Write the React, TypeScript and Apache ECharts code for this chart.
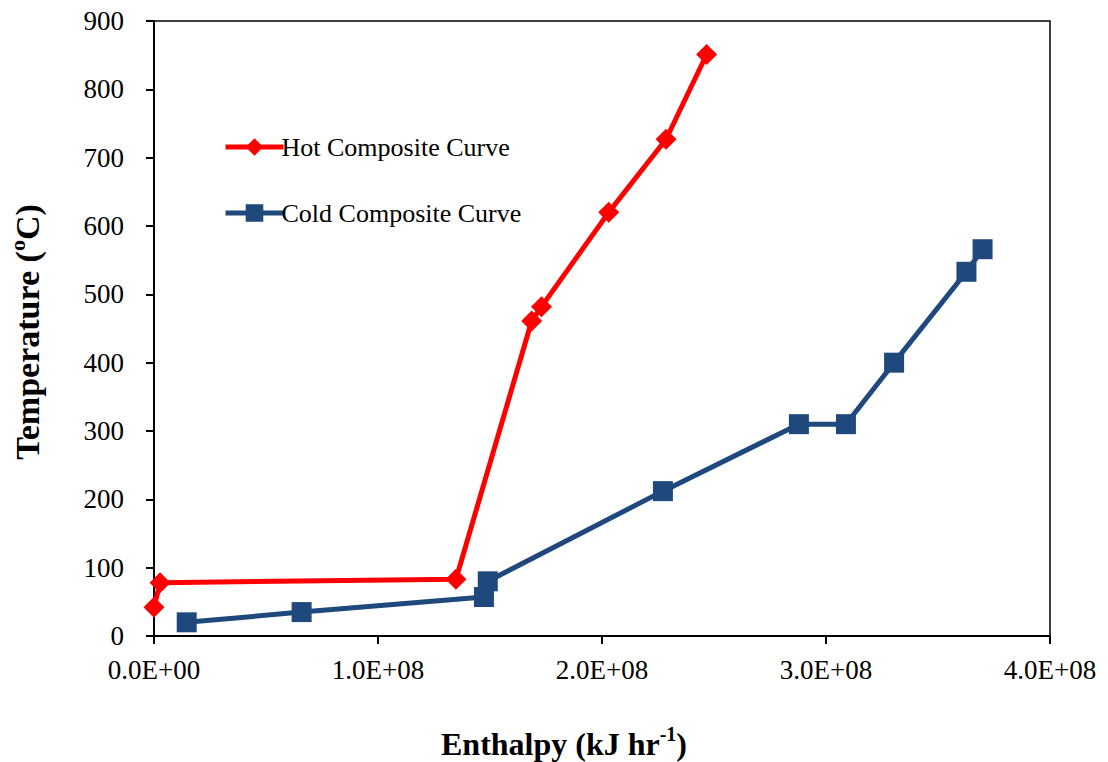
import React, { useEffect, useRef } from "react";
import * as echarts from "echarts";

const hotEnthalpy = [0, 2.7e6, 1.348e8, 1.686e8, 1.73e8, 2.03e8, 2.286e8, 2.467e8];
const hotTemp = [42, 78, 83, 461, 482, 620, 727, 851];
const coldEnthalpy = [1.46e7, 6.59e7, 1.473e8, 1.49e8, 2.272e8, 2.879e8, 3.089e8, 3.304e8, 3.627e8, 3.699e8];
const coldTemp = [20, 35, 57, 80, 212, 310, 310, 400, 533, 566];
const xTicks = [0, 1e8, 2e8, 3e8, 4e8];
const yTicks = [0, 100, 200, 300, 400, 500, 600, 700, 800, 900];

const FONT = "'Liberation Serif', 'Times New Roman', serif";

function fmtSci(v: number) {
  if (v === 0) return "0.0E+00";
  const e = Math.floor(Math.log10(Math.abs(v)));
  const m = v / Math.pow(10, e);
  return m.toFixed(1) + "E+" + String(e).padStart(2, "0");
}

function titleRich(size: number, sup: number) {
  return {
    b: { fontFamily: FONT, fontSize: size, fontWeight: "bold", fill: "#000", color: "#000", lineHeight: size + 4, verticalAlign: "bottom" },
    s: { fontFamily: FONT, fontSize: sup, fontWeight: "bold", fill: "#000", color: "#000", lineHeight: size + 4, verticalAlign: "top", padding: [0, 0, Math.round(size * 0.38), 0] },
  };
}

export default function App() {
  const ref = useRef<HTMLDivElement>(null);
  useEffect(() => {
    if (!ref.current) return;
    const chart = echarts.init(ref.current, undefined, { renderer: "svg" });
    chart.setOption({
      animation: false,
      backgroundColor: "#fff",
      grid: { left: 154, right: 58, top: 21, bottom: 126, show: true, borderColor: "#000", borderWidth: 1.5 },
      legend: {
        left: 218,
        top: 129,
        orient: "vertical",
        itemGap: 40,
        itemWidth: 58,
        itemHeight: 22,
        lineStyle: { width: 5 },
        textStyle: { fontFamily: FONT, fontSize: 26, color: "#000", padding: [0, 0, 0, -7] },
        data: ["Hot Composite Curve", "Cold Composite Curve"],
      },
      xAxis: {
        type: "value",
        min: xTicks[0],
        max: xTicks[xTicks.length - 1],
        interval: 1e8,
        splitLine: { show: false },
        axisLine: { lineStyle: { color: "#000", width: 2 } },
        axisTick: { show: true, length: 8, lineStyle: { color: "#000", width: 2 } },
        axisLabel: { margin: 20, fontFamily: FONT, fontSize: 27, color: "#000", formatter: (v: number) => fmtSci(v) },
      },
      yAxis: {
        type: "value",
        min: yTicks[0],
        max: yTicks[yTicks.length - 1],
        interval: 100,
        splitLine: { show: false },
        axisLine: { show: true, lineStyle: { color: "#000", width: 2 } },
        axisTick: { show: true, length: 8, lineStyle: { color: "#000", width: 2 } },
        axisLabel: { margin: 30, fontFamily: FONT, fontSize: 27, color: "#000" },
      },
      graphic: [
        {
          type: "text",
          x: 564,
          y: 742,
          style: {
            text: "{b|Enthalpy (kJ hr}{s|-1}{b|)}",
            align: "center",
            verticalAlign: "middle",
            rich: titleRich(32, 20),
          },
        },
        {
          type: "text",
          x: 25,
          y: 332,
          rotation: Math.PI / 2,
          style: {
            text: "{b|Temperature (}{s|o}{b|C)}",
            align: "center",
            verticalAlign: "middle",
            rich: titleRich(34, 22),
          },
        },
      ],
      series: [
        {
          name: "Hot Composite Curve",
          type: "line",
          data: hotEnthalpy.map((x, i) => [x, hotTemp[i]]),
          symbol: "diamond",
          symbolSize: 21,
          itemStyle: { color: "#ff0000" },
          lineStyle: { color: "#ff0000", width: 5 },
        },
        {
          name: "Cold Composite Curve",
          type: "line",
          data: coldEnthalpy.map((x, i) => [x, coldTemp[i]]),
          symbol: "rect",
          symbolSize: 20,
          itemStyle: { color: "#1f497d" },
          lineStyle: { color: "#1f497d", width: 5 },
        },
      ],
    });
    return () => chart.dispose();
  }, []);
  return <div ref={ref} style={{ width: 1108, height: 762, position: "absolute", left: 0, top: 0 }} />;
}
